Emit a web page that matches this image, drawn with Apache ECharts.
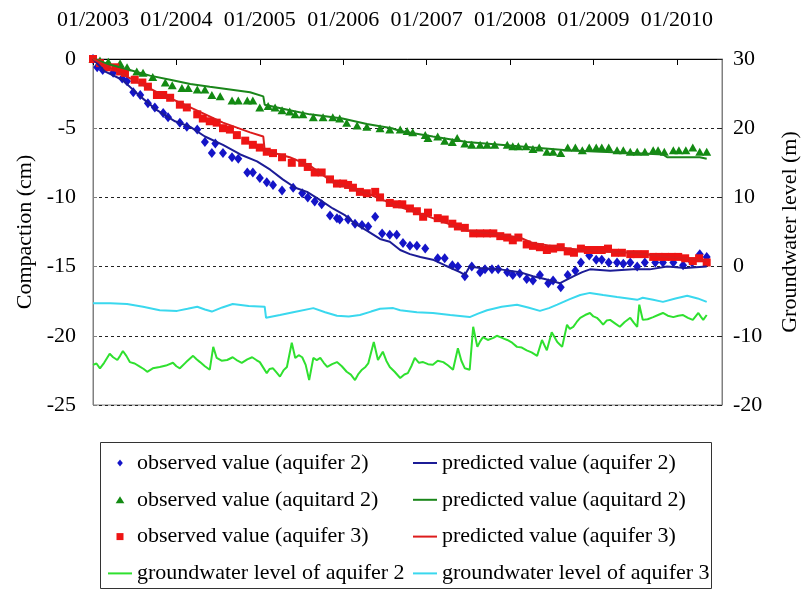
<!DOCTYPE html>
<html>
<head>
<meta charset="utf-8">
<script src="https://cdn.jsdelivr.net/npm/echarts@6/dist/echarts.min.js"></script>
<style>
  html, body { margin: 0; padding: 0; background: #fff; }
  #chart { width: 808px; height: 590px; }
</style>
</head>
<body>
<div id="chart"></div>
<script>
// x = months since 01/2003, compaction in cm (left axis), groundwater level in m (right axis)
var yearLabels = ['01/2003', '01/2004', '01/2005', '01/2006', '01/2007', '01/2008', '01/2009', '01/2010'];

var obsAquifer2 = [
  [0,0],[0.6,-0.6],[1.4,-0.8],[2.9,-1.0],[4.2,-1.4],[4.9,-1.6],[5.8,-2.4],[6.8,-2.6],[7.9,-3.2],[8.9,-3.5],
  [10.1,-3.9],[10.8,-4.2],[12.5,-4.6],[13.5,-4.9],[15.0,-5.1],[16.1,-6.0],[17.1,-6.8],[17.6,-6.1],[18.7,-6.8],
  [20.0,-7.1],[20.9,-7.2],[22.2,-8.2],[23.0,-8.2],[24.0,-8.6],[25.0,-8.9],[25.9,-9.1],[27.2,-9.5],[28.8,-9.3],
  [30.1,-9.7],[30.9,-10.0],[31.9,-10.3],[32.9,-10.5],[34.1,-11.3],[35.1,-11.5],[35.5,-11.6],[36.7,-11.6],
  [37.7,-11.9],[38.7,-12.0],[39.6,-12.1],[40.6,-11.4],[41.6,-12.6],[42.7,-12.7],[43.7,-12.7],[44.6,-13.3],
  [45.6,-13.5],[46.6,-13.5],[47.8,-13.7],[49.6,-14.4],[50.6,-14.4],[51.7,-14.9],[52.5,-15.0],[53.5,-15.7],
  [54.5,-15.0],[55.7,-15.4],[56.4,-15.2],[57.4,-15.2],[58.3,-15.2],[59.6,-15.4],[60.4,-15.6],[61.4,-15.5],
  [62.4,-15.9],[63.3,-16.0],[64.3,-15.6],[65.5,-16.2],[66.2,-16.0],[67.3,-16.5],[68.3,-15.6],[69.4,-15.3],
  [70.2,-14.7],[71.4,-14.2],[72.4,-14.5],[73.2,-14.5],[74.2,-14.7],[75.4,-14.7],[76.3,-14.8],[77.3,-14.7],
  [78.3,-15.0],[79.4,-14.7],[80.9,-14.7],[82.0,-14.7],[83.5,-14.7],[84.9,-14.9],[86.2,-14.7],[87.3,-14.1],[88.3,-14.3]
];
var predAquifer2 = [
  [0,0],[1.7,-0.9],[4.2,-1.5],[6.8,-2.7],[9.2,-3.7],[11.8,-4.5],[14.0,-4.9],[16.1,-5.6],[18.7,-6.2],[21.2,-6.9],
  [23.6,-7.4],[25.5,-8.0],[27.3,-8.7],[29.1,-9.3],[30.8,-9.6],[32.7,-10.2],[34.5,-10.8],[36.3,-11.3],[37.7,-11.9],
  [39.4,-12.4],[41.3,-13.0],[42.7,-13.2],[44.2,-13.8],[45.6,-14.1],[47.1,-14.3],[48.9,-14.5],[50.6,-14.9],
  [52.8,-15.4],[53.5,-15.6],[54.2,-15.0],[55.7,-15.1],[58.6,-15.2],[61.4,-15.4],[63.3,-15.7],[65.0,-15.9],
  [67.2,-16.2],[69.1,-15.7],[70.4,-15.4],[71.5,-15.2],[74.4,-15.3],[77.7,-15.2],[80.1,-15.2],[82.6,-15.0],
  [85.2,-15.1],[88.3,-15.0]
];
var obsAquitard2 = [
  [0,0],[1.0,-0.1],[2.2,-0.2],[3.9,-0.3],[4.9,-0.6],[6.3,-0.9],[7.2,-1.0],[8.6,-1.3],[10.4,-1.7],[11.4,-1.9],
  [12.8,-2.1],[13.7,-2.1],[15.0,-2.2],[16.1,-2.2],[17.1,-2.6],[18.3,-2.7],[20.0,-3.0],[20.9,-3.0],[22.2,-3.0],
  [23.0,-3.0],[24.0,-3.5],[25.2,-3.4],[26.2,-3.5],[27.2,-3.7],[28.3,-3.8],[29.1,-4.0],[30.2,-4.0],[31.7,-4.2],
  [33.1,-4.2],[34.5,-4.2],[35.5,-4.3],[36.5,-4.6],[38.0,-4.8],[39.4,-4.9],[41.3,-5.0],[42.7,-5.1],[44.2,-5.1],
  [45.2,-5.2],[46.0,-5.3],[47.8,-5.5],[48.2,-5.7],[49.6,-5.6],[50.6,-5.9],[51.7,-6.0],[52.4,-5.7],[53.5,-6.1],
  [54.5,-6.2],[55.7,-6.2],[56.7,-6.2],[57.8,-6.2],[59.6,-6.2],[60.4,-6.3],[61.2,-6.3],[62.3,-6.3],[63.3,-6.5],
  [64.2,-6.4],[65.3,-6.7],[66.2,-6.7],[67.3,-6.8],[68.3,-6.4],[69.4,-6.4],[70.4,-6.6],[71.4,-6.4],[72.4,-6.4],
  [73.2,-6.4],[74.2,-6.4],[75.4,-6.6],[76.3,-6.6],[77.3,-6.7],[78.3,-6.7],[79.4,-6.7],[80.6,-6.6],[81.3,-6.6],
  [82.2,-6.7],[83.5,-6.6],[84.3,-6.6],[85.3,-6.6],[86.3,-6.4],[87.3,-6.7],[88.3,-6.7]
];
var predAquitard2 = [
  [0,0],[2.4,-0.4],[5.3,-0.8],[8.2,-1.2],[11.1,-1.5],[14.0,-1.8],[16.8,-2.0],[19.7,-2.2],[22.6,-2.4],[24.5,-2.7],
  [24.7,-3.3],[28.3,-3.7],[31.2,-4.0],[35.9,-4.3],[39.4,-4.7],[43.0,-5.0],[44.2,-5.2],[48.9,-5.6],[53.8,-6.0],
  [58.6,-6.2],[63.3,-6.4],[68.2,-6.6],[73.0,-6.7],[77.7,-6.8],[82.0,-6.9],[82.6,-7.1],[87.3,-7.1],[88.3,-7.2]
];
var obsAquifer3 = [
  [0,0],[1.0,-0.3],[2.0,-0.6],[3.2,-0.6],[3.9,-0.9],[4.6,-1.0],[6.0,-1.5],[7.1,-1.7],[7.9,-2.0],[9.2,-2.6],
  [10.1,-2.6],[11.1,-2.8],[12.5,-3.3],[13.5,-3.5],[15.0,-4.0],[15.8,-4.3],[16.8,-4.5],[17.8,-4.6],[18.7,-5.0],
  [19.7,-5.1],[20.7,-5.5],[21.9,-5.9],[23.0,-6.2],[24.0,-6.4],[25.0,-6.7],[25.9,-6.8],[27.2,-7.1],[28.6,-7.5],
  [30.1,-7.5],[30.9,-7.8],[31.9,-8.2],[32.9,-8.2],[34.1,-8.7],[35.1,-9.0],[36.0,-9.0],[36.7,-9.1],[37.4,-9.3],
  [38.4,-9.6],[39.4,-9.7],[40.6,-9.6],[41.3,-10.0],[42.7,-10.4],[43.7,-10.5],[44.5,-10.5],[45.6,-10.8],
  [46.6,-11.0],[47.5,-11.4],[48.2,-11.1],[49.6,-11.5],[50.6,-11.6],[51.7,-11.9],[52.5,-12.1],[53.5,-12.2],
  [54.7,-12.6],[55.7,-12.6],[56.7,-12.6],[57.6,-12.6],[58.6,-12.8],[59.6,-12.9],[60.4,-13.1],[61.2,-12.9],
  [62.4,-13.4],[63.3,-13.5],[64.3,-13.6],[65.3,-13.8],[66.2,-13.7],[67.3,-13.6],[68.3,-13.9],[69.2,-14.0],
  [70.2,-13.7],[71.2,-13.8],[72.2,-13.8],[73.2,-13.8],[74.1,-13.7],[75.1,-14.0],[76.1,-14.0],[77.3,-14.1],
  [78.3,-14.1],[79.4,-14.1],[80.6,-14.3],[81.4,-14.3],[82.3,-14.3],[83.3,-14.3],[84.2,-14.3],[85.2,-14.4],
  [86.3,-14.6],[87.2,-14.4],[88.3,-14.7]
];
var predAquifer3 = [
  [0,0],[4.6,-1.2],[9.2,-2.4],[14.0,-3.5],[18.7,-4.6],[22.6,-5.3],[24.5,-5.6],[24.7,-6.6],[28.3,-7.1],
  [31.2,-7.7],[34.5,-8.9],[39.4,-9.7],[44.2,-10.7],[48.9,-11.5],[53.8,-12.4],[58.6,-12.7],[61.4,-12.9],
  [63.3,-13.3],[68.2,-13.7],[73.0,-13.9],[77.7,-14.0],[82.6,-14.3],[87.3,-14.5],[88.3,-14.6]
];
var gwAquifer2 = [
  [0,-14.2],[0.5,-14.0],[1.0,-14.7],[1.6,-13.9],[2.4,-12.6],[2.9,-13.1],[3.5,-13.5],[3.9,-12.9],[4.3,-12.2],
  [4.8,-12.9],[5.3,-13.8],[6.0,-14.0],[6.8,-14.5],[7.3,-14.8],[7.8,-15.2],[8.6,-14.7],[9.6,-14.5],[10.5,-14.3],
  [11.5,-13.9],[12.0,-14.4],[12.5,-14.7],[13.4,-13.8],[14.4,-12.9],[14.9,-13.4],[15.4,-13.8],[16.1,-14.4],
  [16.8,-14.9],[17.3,-11.6],[17.8,-13.2],[18.5,-13.6],[19.3,-13.5],[20.1,-13.1],[20.8,-13.6],[21.4,-13.9],
  [22.2,-13.4],[22.9,-13.1],[23.5,-13.5],[24.0,-13.8],[24.5,-14.6],[25.0,-15.4],[25.4,-14.8],[25.9,-14.7],
  [26.4,-15.3],[26.9,-15.9],[27.4,-15.0],[27.9,-14.5],[28.6,-11.0],[29.1,-13.2],[29.6,-12.8],[30.1,-13.1],
  [30.6,-14.2],[31.1,-16.4],[31.7,-13.2],[32.2,-13.5],[32.7,-13.2],[33.2,-13.9],[33.7,-14.5],[34.4,-14.1],
  [35.1,-13.8],[35.8,-14.4],[36.5,-15.2],[37.1,-15.6],[37.7,-16.4],[38.2,-15.5],[38.7,-14.9],[39.2,-14.5],
  [39.6,-14.0],[40.4,-10.9],[41.0,-13.5],[41.7,-12.3],[42.2,-13.6],[42.7,-14.5],[43.4,-15.2],[44.2,-16.1],
  [44.8,-15.6],[45.3,-15.4],[45.8,-14.4],[46.3,-13.2],[46.9,-13.9],[47.5,-13.8],[48.2,-14.1],[48.9,-14.2],
  [49.6,-13.6],[50.4,-13.8],[51.1,-14.3],[51.8,-14.9],[52.5,-11.8],[53.0,-13.6],[53.5,-14.7],[54.2,-14.9],
  [54.7,-8.7],[55.3,-11.6],[55.7,-10.8],[56.1,-10.2],[56.8,-10.6],[57.6,-10.3],[58.1,-10.0],[58.6,-10.2],
  [59.1,-10.4],[59.6,-10.6],[60.3,-11.0],[61.0,-11.6],[61.7,-11.7],[62.4,-12.1],[63.1,-12.4],[63.9,-12.9],
  [64.6,-10.6],[65.3,-12.1],[66.0,-9.5],[66.8,-10.9],[67.5,-11.6],[68.2,-8.4],[68.6,-9.0],[69.1,-8.7],
  [69.6,-8.0],[70.1,-7.4],[70.8,-7.0],[71.5,-6.7],[72.0,-7.2],[72.5,-7.4],[73.0,-7.9],[73.4,-8.4],[73.9,-7.8],
  [74.4,-7.7],[75.1,-8.2],[75.8,-8.7],[76.5,-8.0],[77.3,-7.4],[77.8,-8.1],[78.3,-8.7],[78.6,-5.5],[79.1,-7.7],
  [79.8,-7.6],[80.6,-7.3],[81.3,-7.0],[82.0,-6.7],[82.7,-7.1],[83.5,-7.3],[84.2,-7.1],[84.9,-7.0],[85.6,-7.4],
  [86.3,-7.7],[87.1,-6.7],[87.5,-7.3],[87.8,-7.7],[88.3,-7.0]
];
var gwAquifer3 = [
  [0,-5.3],[2.5,-5.3],[4.9,-5.4],[7.2,-5.8],[9.6,-6.3],[12.1,-6.4],[13.6,-6.1],[15.0,-5.8],[16.1,-6.2],
  [17.1,-6.5],[18.6,-5.9],[20.1,-5.4],[22.4,-5.7],[24.7,-5.8],[24.9,-7.4],[26.9,-7.0],[28.8,-6.6],[31.7,-6.0],
  [33.4,-6.6],[35.1,-7.1],[36.8,-7.2],[38.4,-7.0],[40.0,-6.5],[41.3,-6.1],[43.2,-6.0],[44.2,-6.3],[46.6,-6.6],
  [48.9,-6.7],[51.4,-7.0],[54.2,-7.3],[55.4,-6.8],[56.7,-6.3],[58.8,-5.8],[61.0,-5.5],[62.6,-5.9],[64.3,-6.4],
  [65.6,-6.0],[66.8,-5.5],[68.6,-4.7],[70.1,-4.1],[71.5,-3.8],[73.4,-4.1],[75.4,-4.4],[77.0,-4.6],[78.3,-4.8],
  [79.1,-4.5],[80.6,-4.8],[82.0,-5.1],[83.8,-4.6],[85.5,-4.2],[87.0,-4.6],[88.3,-5.1]
];

var serif = 'Liberation Serif';
var lineIcon = 'path://M0,0H24V2H0Z';
var chart = echarts.init(document.getElementById('chart'), null, { renderer: 'canvas' });

var legendBase = {
  orient: 'vertical',
  top: 452, padding: 0,
  itemWidth: 24, itemHeight: 7, itemGap: 14.8,
  textStyle: { fontSize: 22, lineHeight: 22, fontFamily: serif, color: '#000' }
};

var option = {
  animation: false,
  backgroundColor: '#ffffff',
  textStyle: { fontFamily: serif, color: '#000' },
  grid: {
    left: 93, right: 86, top: 59, bottom: 185,
    outerBoundsMode: 'none', containLabel: false,
    show: true, borderColor: '#808080', borderWidth: 1, backgroundColor: 'transparent'
  },
  xAxis: {
    type: 'value',
    position: 'top',
    min: 0, max: 90.5, interval: 12,
    axisLine: { show: true, lineStyle: { color: '#000', width: 1 } },
    axisTick: { show: true, inside: true, length: 6, lineStyle: { color: '#000' } },
    axisLabel: {
      show: true, margin: 28, fontSize: 22, fontFamily: serif, color: '#000', showMaxLabel: false,
      formatter: function (v) { return yearLabels[Math.round(v / 12)] || ''; }
    },
    splitLine: { show: false }
  },
  yAxis: [{
    type: 'value',
    min: -25, max: 0, interval: 5,
    name: 'Compaction (cm)',
    nameLocation: 'middle', nameGap: 57,
    nameTextStyle: { fontSize: 22, fontFamily: serif, color: '#000' },
    axisLine: { show: true, lineStyle: { color: '#808080' } },
    axisTick: { show: true, inside: true, length: 4, lineStyle: { color: '#808080' } },
    axisLabel: { margin: 17, fontSize: 22, fontFamily: serif, color: '#000' },
    splitLine: { show: true, lineStyle: { color: '#222', type: [3, 3], width: 1 } }
  }, {
    type: 'value',
    min: -20, max: 30, interval: 10,
    position: 'right',
    name: 'Groundwater level (m)',
    nameLocation: 'middle', nameGap: 57,
    nameTextStyle: { fontSize: 22, fontFamily: serif, color: '#000' },
    axisLine: { show: true, lineStyle: { color: '#808080' } },
    axisTick: { show: true, inside: true, length: 5, lineStyle: { color: '#222' } },
    axisLabel: { margin: 11, fontSize: 22, fontFamily: serif, color: '#000' },
    splitLine: { show: false }
  }],
  legend: [
    Object.assign({}, legendBase, {
      left: 108,
      data: [
        { name: 'observed value (aquifer 2)', icon: 'path://M0,-1L0.8,0L0,1L-0.8,0Z' },
        { name: 'observed value (aquitard 2)', icon: 'path://M0,0L1,1.6L-1,1.6Z' },
        { name: 'observed value (aquifer 3)', icon: 'path://M0,0H1V1H0Z' },
        { name: 'groundwater level of aquifer 2', icon: lineIcon }
      ]
    }),
    Object.assign({}, legendBase, {
      left: 413,
      data: [
        { name: 'predicted value (aquifer 2)', icon: lineIcon },
        { name: 'predicted value (aquitard 2)', icon: lineIcon },
        { name: 'predicted value (aquifer 3)', icon: lineIcon },
        { name: 'groundwater level of aquifer 3', icon: lineIcon }
      ]
    })
  ],
  graphic: [{
    type: 'rect',
    shape: { x: 100.5, y: 442.5, width: 611, height: 146 },
    style: { fill: 'none', stroke: '#333', lineWidth: 1 }
  }],
  series: [
    {
      name: 'groundwater level of aquifer 2', type: 'line', yAxisIndex: 1,
      data: gwAquifer2, showSymbol: false, symbol: 'none',
      lineStyle: { color: '#2fe02f', width: 2 }, itemStyle: { color: '#2fe02f' }
    },
    {
      name: 'groundwater level of aquifer 3', type: 'line', yAxisIndex: 1,
      data: gwAquifer3, showSymbol: false, symbol: 'none',
      lineStyle: { color: '#3ad8ee', width: 2 }, itemStyle: { color: '#3ad8ee' }
    },
    {
      name: 'observed value (aquifer 2)', type: 'scatter', data: obsAquifer2,
      symbol: 'diamond', symbolSize: [8, 10], itemStyle: { color: '#1414c8', opacity: 1 }
    },
    {
      name: 'observed value (aquitard 2)', type: 'scatter', data: obsAquitard2,
      symbol: 'triangle', symbolSize: [9, 8], itemStyle: { color: '#138a13', opacity: 1 }
    },
    {
      name: 'observed value (aquifer 3)', type: 'scatter', data: obsAquifer3,
      symbol: 'rect', symbolSize: 8, itemStyle: { color: '#ee1414', opacity: 1 }
    },
    {
      name: 'predicted value (aquifer 2)', type: 'line', data: predAquifer2,
      showSymbol: false, symbol: 'none',
      lineStyle: { color: '#1c1c96', width: 2 }, itemStyle: { color: '#1c1c96' }
    },
    {
      name: 'predicted value (aquitard 2)', type: 'line', data: predAquitard2,
      showSymbol: false, symbol: 'none',
      lineStyle: { color: '#1a861a', width: 2 }, itemStyle: { color: '#1a861a' }
    },
    {
      name: 'predicted value (aquifer 3)', type: 'line', data: predAquifer3,
      showSymbol: false, symbol: 'none',
      lineStyle: { color: '#dd1c1c', width: 2 }, itemStyle: { color: '#dd1c1c' }
    }
  ]
};

chart.setOption(option);
</script>
</body>
</html>
